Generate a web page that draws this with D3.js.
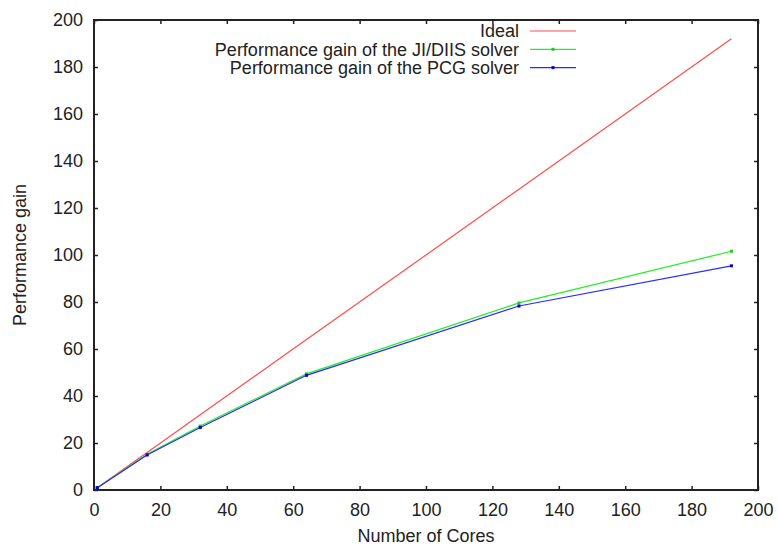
<!DOCTYPE html>
<html lang="en">
  <head>
    <meta charset="UTF-8" />
    <title>Performance gain</title>
    <script src="https://d3js.org/d3.v7.min.js"></script>
    <style>
      body {
        margin: 0;
        background-color: #ffffff;
        font-family: "Liberation Sans", Arial, sans-serif;
      }
      svg text {
        fill: #222;
      }
    </style>
  </head>
  <body>
    <div id="chart"></div>
    <script>
      // Data
      const cores = [1, 16, 32, 64, 128, 192];
      const ideal = [1, 16, 32, 64, 128, 192];
      const jiDiis = [1, 15.2, 27.2, 49.4, 79.6, 101.6];
      const pcg = [1, 14.9, 26.6, 48.8, 78.3, 95.4];
      const xTicks = [0, 20, 40, 60, 80, 100, 120, 140, 160, 180, 200];
      const yTicks = [0, 20, 40, 60, 80, 100, 120, 140, 160, 180, 200];

      const seriesList = [
        { name: "Ideal", values: ideal, color: "#ff4d4d", marker: null },
        { name: "Performance gain of the JI/DIIS solver", values: jiDiis, color: "#22ee22", marker: "#22cc22" },
        { name: "Performance gain of the PCG solver", values: pcg, color: "#2a2aff", marker: "#0000dd" },
      ];

      const width = 778,
        height = 546;
      const margin = { top: 20, right: 20, bottom: 56, left: 94 };
      const fontSize = 18;

      const svg = d3
        .select("#chart")
        .append("svg")
        .attr("width", width)
        .attr("height", height);

      const x = d3.scaleLinear().domain([0, 200]).range([margin.left, width - margin.right]);
      const y = d3.scaleLinear().domain([0, 200]).range([height - margin.bottom, margin.top]);

      // Axes with inward ticks, mirrored on top and right
      const tickLen = 4;
      const bottomAxis = svg
        .append("g")
        .attr("transform", "translate(0," + y(0) + ")")
        .call(d3.axisBottom(x).tickValues(xTicks).tickSizeInner(-tickLen).tickSizeOuter(0).tickPadding(13));
      const leftAxis = svg
        .append("g")
        .attr("transform", "translate(" + x(0) + ",0)")
        .call(d3.axisLeft(y).tickValues(yTicks).tickSizeInner(-tickLen).tickSizeOuter(0).tickPadding(11));
      svg
        .append("g")
        .attr("transform", "translate(0," + y(200) + ")")
        .call(d3.axisTop(x).tickValues(xTicks).tickSizeInner(-tickLen).tickSizeOuter(0).tickFormat(""));
      svg
        .append("g")
        .attr("transform", "translate(" + x(200) + ",0)")
        .call(d3.axisRight(y).tickValues(yTicks).tickSizeInner(-tickLen).tickSizeOuter(0).tickFormat(""));

      svg.selectAll(".domain").remove();
      svg.selectAll(".tick line").attr("stroke", "#222").attr("stroke-width", 1.5);
      [bottomAxis, leftAxis].forEach((g) =>
        g.selectAll("text").attr("font-size", fontSize).attr("font-family", "Liberation Sans, Arial, sans-serif").attr("fill", "#222")
      );

      // Data lines
      const line = d3
        .line()
        .x((d, i) => x(cores[i]))
        .y((d) => y(d));

      seriesList.forEach((s) => {
        svg
          .append("path")
          .datum(s.values)
          .attr("fill", "none")
          .attr("stroke", s.color)
          .attr("stroke-width", 1.2)
          .attr("d", line);
        if (s.marker) {
          svg
            .selectAll(null)
            .data(s.values)
            .enter()
            .append("rect")
            .attr("x", (d, i) => x(cores[i]) - 1.5)
            .attr("y", (d) => y(d) - 1.5)
            .attr("width", 3)
            .attr("height", 3)
            .attr("fill", s.marker);
        }
      });

      // Frame
      svg
        .append("rect")
        .attr("x", x(0))
        .attr("y", y(200))
        .attr("width", x(200) - x(0))
        .attr("height", y(0) - y(200))
        .attr("fill", "none")
        .attr("stroke", "#222")
        .attr("stroke-width", 2);

      // Legend
      const legend = svg.append("g");
      seriesList.forEach((s, i) => {
        const ly = 31 + i * 18.3;
        legend
          .append("text")
          .attr("x", 519)
          .attr("y", ly)
          .attr("dy", "0.35em")
          .attr("text-anchor", "end")
          .attr("font-size", fontSize)
          .text(s.name);
        legend
          .append("line")
          .attr("x1", 530)
          .attr("x2", 576)
          .attr("y1", ly)
          .attr("y2", ly)
          .attr("stroke", s.color)
          .attr("stroke-width", 1.2);
        if (s.marker) {
          legend
            .append("rect")
            .attr("x", 553 - 1.5)
            .attr("y", ly - 1.5)
            .attr("width", 3)
            .attr("height", 3)
            .attr("fill", s.marker);
        }
      });

      // Axis titles
      svg
        .append("text")
        .attr("x", (x(0) + x(200)) / 2)
        .attr("y", 542)
        .attr("text-anchor", "middle")
        .attr("font-size", fontSize)
        .text("Number of Cores");

      svg
        .append("text")
        .attr("transform", "translate(26," + (y(0) + y(200)) / 2 + ") rotate(-90)")
        .attr("text-anchor", "middle")
        .attr("font-size", fontSize)
        .text("Performance gain");
    </script>
  </body>
</html>
